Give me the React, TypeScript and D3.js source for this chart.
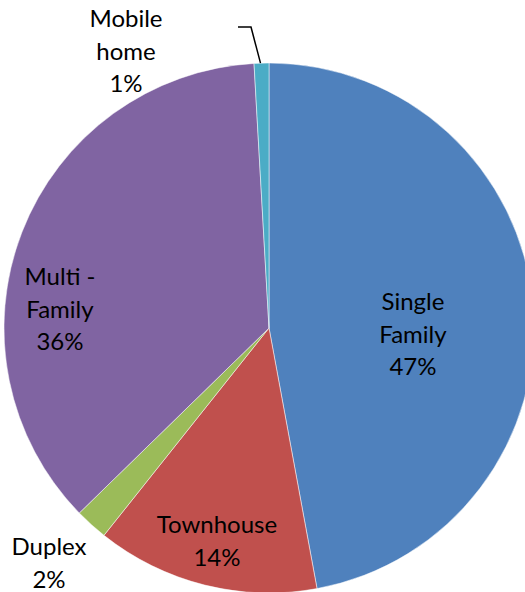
import React from "react";
import * as d3 from "d3";

const categories = ["Single Family", "Townhouse", "Duplex", "Multi - Family", "Mobile home"];
const values = [47.1, 13.6, 2.0, 36.4, 0.9];
const colors = ["#4F81BD", "#C0504D", "#9BBB59", "#8064A2", "#4BACC6"];
const labelLines = [["Single", "Family"], ["Townhouse"], ["Duplex"], ["Multi -", "Family"], ["Mobile", "home"]];

// layout: label anchor (x center, first baseline) relative to pie centre
const labelAnchors: [number, number][] = [
  [144, -18],
  [-52, 205],
  [-220, 227],
  [-209, -43],
  [-143, -301],
];

const W = 525;
const H = 592;
const cx = 269;
const cy = 328;
const R = 265;
const lineH = 32.5;

export default function App() {
  const pie = d3.pie<number>().sort(null).value((d) => d);
  const arcs = pie(values);
  const arc = d3.arc<d3.PieArcDatum<number>>().innerRadius(0).outerRadius(R);
  const total = d3.sum(values);

  const mob = arcs[4];
  const mid = (mob.startAngle + mob.endAngle) / 2;
  const ex = cx + Math.sin(mid) * R;
  const ey = cy - Math.cos(mid) * R;

  return (
    <svg width={W} height={H} style={{ position: "absolute", left: 0, top: 0, display: "block" }}>
      <rect width={W} height={H} fill="#fff" />
      <g transform={`translate(${cx},${cy})`}>
        {arcs.map((a, i) => (
          <path key={i} d={arc(a) || ""} fill={colors[i]} stroke="#fff" strokeWidth={0.5} />
        ))}
      </g>
      <polyline
        points={`${cx - 31},${27} ${cx - 18},${27} ${ex - 1},${ey}`}
        fill="none"
        stroke="#000"
        strokeWidth={1.5}
      />
      {categories.map((c, i) => {
        const lines = [...labelLines[i], `${Math.round((values[i] / total) * 100)}%`];
        const [lx, ly] = labelAnchors[i];
        return (
          <text
            key={c}
            x={cx + lx}
            y={cy + ly}
            textAnchor="middle"
            fontFamily="Lato, 'Open Sans', sans-serif"
            fontSize={24}
            fill="#000"
          >
            {lines.map((t, j) => (
              <tspan key={j} x={cx + lx} dy={j === 0 ? 0 : lineH}>
                {t}
              </tspan>
            ))}
          </text>
        );
      })}
    </svg>
  );
}
